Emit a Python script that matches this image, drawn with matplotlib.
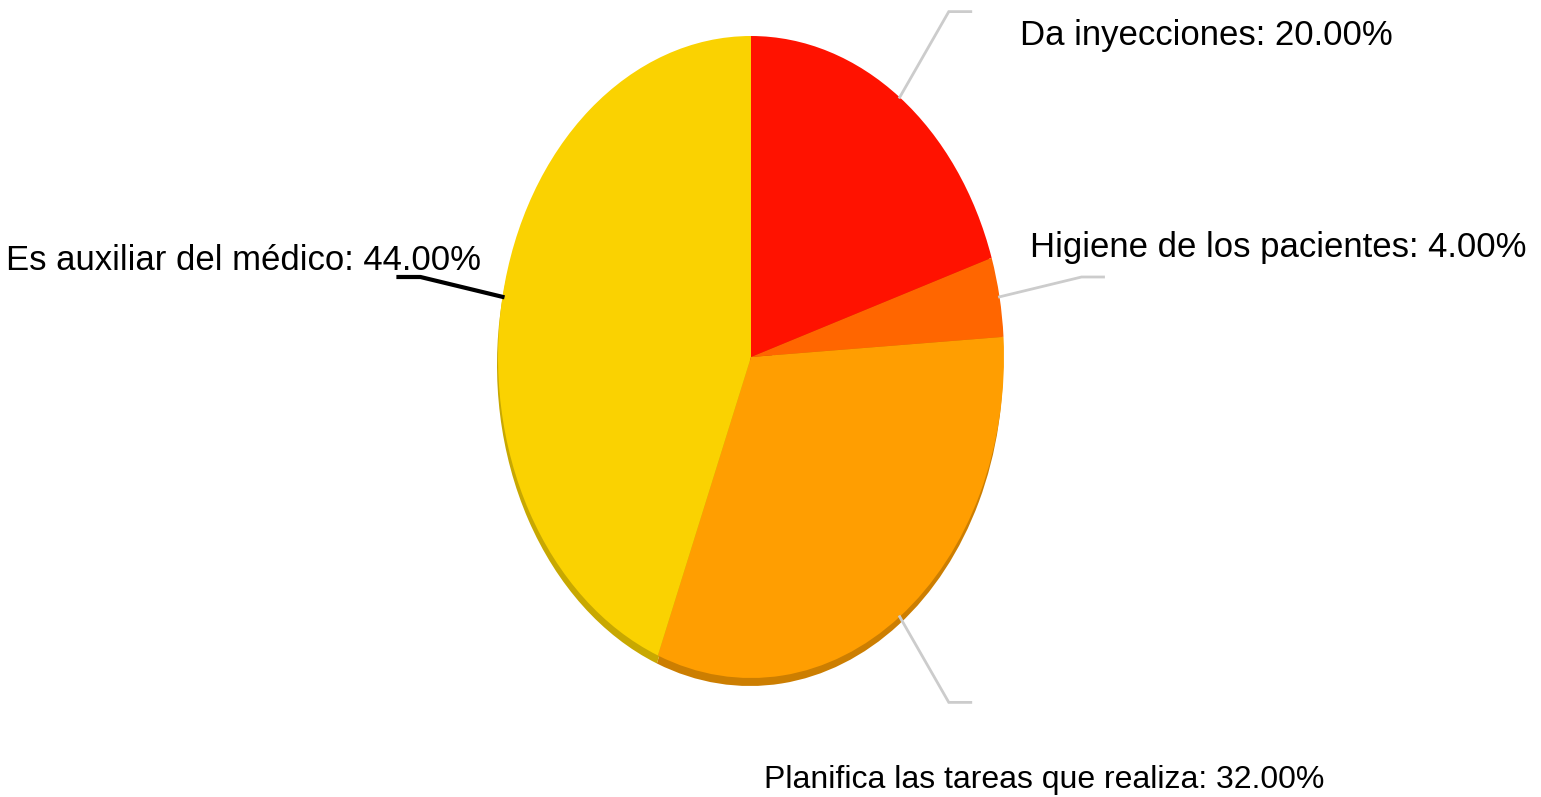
import numpy as np
import matplotlib.pyplot as plt
from matplotlib.colors import to_rgb

labels = ['Da inyecciones', 'Higiene de los pacientes',
          'Planifica las tareas que realiza', 'Es auxiliar del médico']
values = [20.0, 4.0, 32.0, 44.0]
colors = ['#FF1200', '#FF6600', '#FF9E01', '#FAD201']

# label placement (pixels from the end of the leader line)
text_offsets = [(49, -24), (-74, 30), (-207, -78), (83, 17)]
text_ha = ['left', 'left', 'left', 'right']
text_sizes = [25, 25, 23, 25]
line_colors = ['#CCCCCC', '#CCCCCC', '#CCCCCC', '#000000']
line_widths = [2, 2, 2, 3]

W, H = 1541, 797
cx, cy = 751, 357          # pie centre in pixels (from top-left)
rx, ry = 253, 321          # ellipse radii in pixels

plt.rcParams['font.family'] = ['Liberation Sans', 'DejaVu Sans']

fig = plt.figure(figsize=(W / 100, H / 100), dpi=100)
ax = fig.add_axes([0, 0, 1, 1])

# darker "depth" copy underneath
shade = [tuple(c * 0.8 for c in to_rgb(col)) for col in colors]
ax.pie(values, colors=shade, startangle=90, counterclock=False,
       center=(-1 / rx, -8 / ry), radius=1.0, frame=True,
       wedgeprops=dict(linewidth=0))
wedges, _ = ax.pie(values, colors=colors, startangle=90, counterclock=False,
                   center=(0, 0), radius=1.0, frame=True,
                   wedgeprops=dict(linewidth=0))
ax.set_aspect('auto')
ax.set_xlim(-cx / rx, (W - cx) / rx)
ax.set_ylim(-(H - cy) / ry, cy / ry)
ax.axis('off')

for i, w in enumerate(wedges):
    mid = np.deg2rad((w.theta1 + w.theta2) / 2)
    c, s = np.cos(mid), np.sin(mid)
    x0, y0 = c, s
    x1, y1 = 1.33 * c, 1.33 * s
    side = 1 if c >= 0 else -1
    x2 = x1 + side * 22 / rx
    ax.plot([x0, x1, x2], [y0, y1, y1], color=line_colors[i],
            lw=line_widths[i], solid_joinstyle='miter', zorder=1)
    ax.annotate(f'{labels[i]}: {values[i]:.2f}%', xy=(x2, y1),
                xytext=text_offsets[i], textcoords='offset pixels',
                ha=text_ha[i], va='center', fontsize=text_sizes[i],
                color='black')

fig.savefig('out.png', dpi=100)
